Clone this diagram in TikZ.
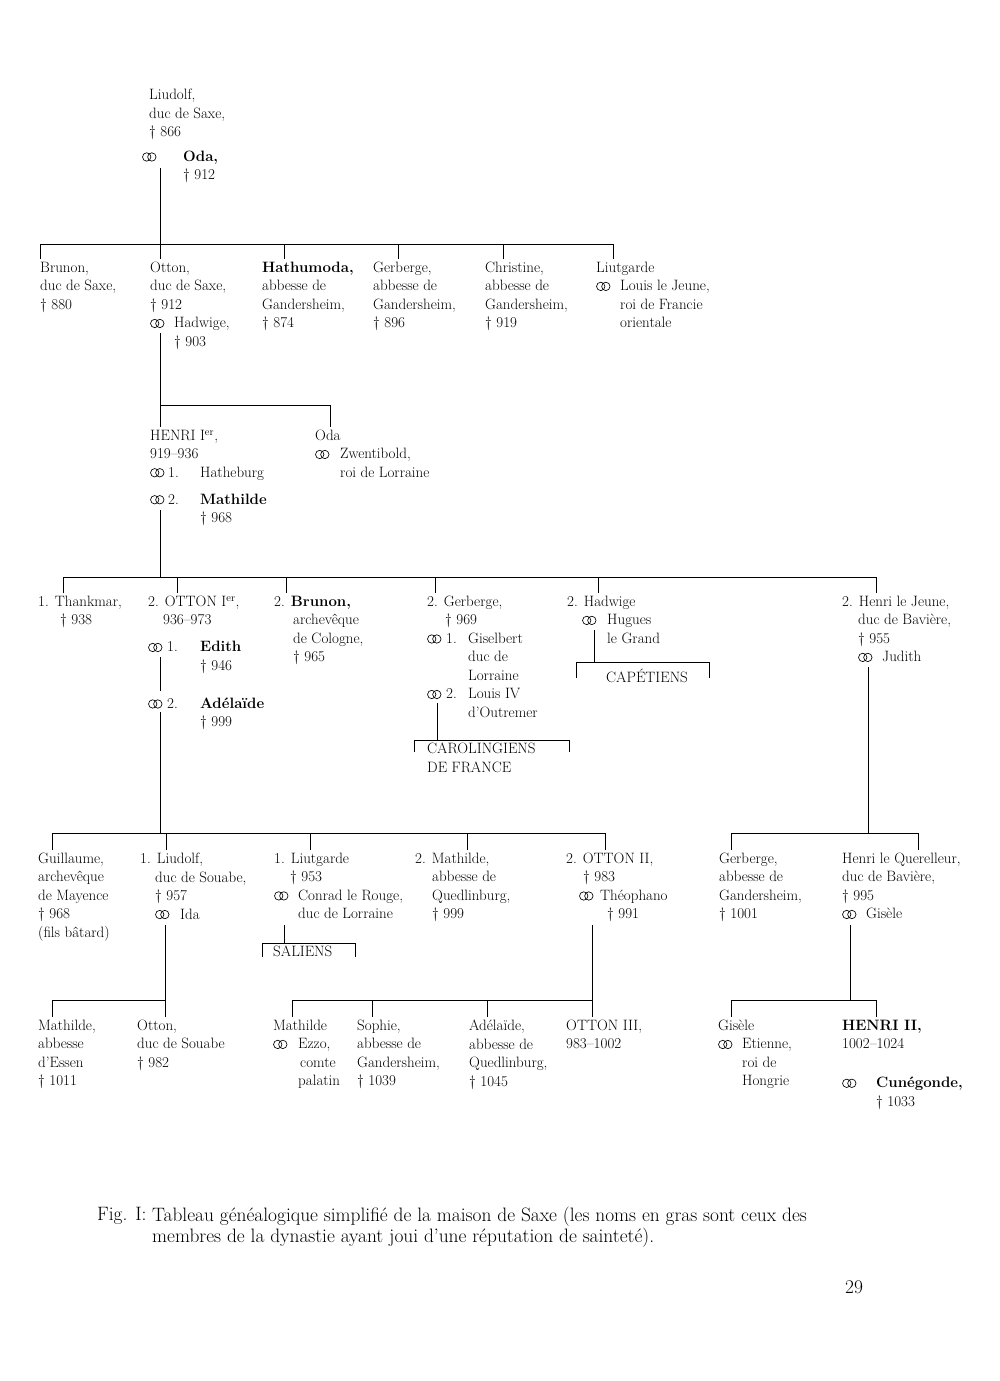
\documentclass[tikz,border=0pt]{standalone}
\usetikzlibrary{positioning}
% marriage sign, two rings
\newcommand\mar{\tikz[baseline=0pt,line width=0.65pt]{\draw (0.28em,0.3em) circle[radius=0.28em]; \draw (0.62em,0.3em) circle[radius=0.28em];}}
\newcommand\mb[1]{\makebox[#1][l]{\mar}}
\newcommand\ind[1]{\hspace*{#1}}
\tikzset{
	pers/.style={anchor=north west, align=left, inner sep=0pt, outer ysep=3pt, font=\fontsize{15}{18.5}\selectfont},
	capt/.style={anchor=north west, align=left, inner sep=0pt, font=\fontsize{19.4}{20.5}\selectfont},
	line/.style={line width=0.8pt}
}
\begin{document}
\begin{tikzpicture}[x=1pt,y=1pt]
	\useasboundingbox (0,0) rectangle (1000,-1381);
	% generation 0
	\node[pers] (liudolf) at (149,-86) {Liudolf,\\duc de Saxe,\\\textdagger\ 866};
	\node[pers] (oda) at (142,-148) {\mb{41pt}\textbf{Oda,}\\\ind{41pt}\textdagger\ 912};
	% generation 1
	\node[pers] (brunon) at (40,-259) {Brunon,\\duc de Saxe,\\\textdagger\ 880};
	\node[pers] (otton) at (150,-259) {Otton,\\duc de Saxe,\\\textdagger\ 912\\\mb{24pt}Hadwige,\\\ind{24pt}\textdagger\ 903};
	\node[pers] (hathumoda) at (262,-259) {\textbf{Hathumoda,}\\abbesse de\\Gandersheim,\\\textdagger\ 874};
	\node[pers] (gerberge) at (373,-259) {Gerberge,\\abbesse de\\Gandersheim,\\\textdagger\ 896};
	\node[pers] (christine) at (485,-259) {Christine,\\abbesse de\\Gandersheim,\\\textdagger\ 919};
	\node[pers] (liutgarde) at (596,-259) {Liutgarde\\\mb{24pt}Louis le Jeune,\\\ind{24pt}roi de Francie\\\ind{24pt}orientale};
	% generation 2
	\node[pers] (henri) at (150,-427) {HENRI I\textsuperscript{er},\\919--936\\\mb{18pt}\makebox[32pt][l]{1.}Hatheburg\\[8.5pt]\mb{18pt}\makebox[32pt][l]{2.}\textbf{Mathilde}\\\ind{50pt}\textdagger\ 968};
	\node[pers] (odab) at (315,-427) {Oda\\\mb{25pt}Zwentibold,\\\ind{25pt}roi de Lorraine};
	% generation 3
	\node[pers] (thankmar) at (38,-593) {1. Thankmar,\\\ind{22pt}\textdagger\ 938};
	\node[pers] (ottoni) at (148,-593) {2. OTTON I\textsuperscript{er},\\\ind{15pt}936--973\\[8.5pt]\mb{19pt}\makebox[33pt][l]{1.}\textbf{Edith}\\\ind{52pt}\textdagger\ 946\\[19.5pt]\mb{19pt}\makebox[33pt][l]{2.}\textbf{Adélaïde}\\\ind{52pt}\textdagger\ 999};
	\node[pers] (brunonb) at (274,-593) {2. \textbf{Brunon,}\\\ind{19pt}archevêque\\\ind{19pt}de Cologne,\\\ind{19pt}\textdagger\ 965};
	\node[pers] (gerbergeb) at (427,-593) {2. Gerberge,\\\ind{18pt}\textdagger\ 969\\\mb{19pt}\makebox[22pt][l]{1.}Giselbert\\\ind{41pt}duc de\\\ind{41pt}Lorraine\\\mb{19pt}\makebox[22pt][l]{2.}Louis IV\\\ind{41pt}d'Outremer};
	\node[pers] (carol) at (427,-740) {CAROLINGIENS\\DE FRANCE};
	\node[pers] (hadwige) at (567,-593) {2. Hadwige\\\ind{15pt}\mb{25pt}Hugues\\\ind{40pt}le Grand};
	\node[pers] (capet) at (606,-666) {CAPÉTIENS};
	\node[pers] (henrij) at (842,-593) {2. Henri le Jeune,\\\ind{16pt}duc de Bavière,\\\ind{16pt}\textdagger\ 955\\\ind{16pt}\mb{24pt}Judith};
	% generation 4
	\node[pers] (guillaume) at (38,-850) {Guillaume,\\archevêque\\de Mayence\\\textdagger\ 968\\(fils bâtard)};
	\node[pers] (liudolfb) at (140,-850) {1. Liudolf,\\\ind{15pt}duc de Souabe,\\\ind{15pt}\textdagger\ 957\\\ind{15pt}\mb{25pt}Ida};
	\node[pers] (liutgardeb) at (274,-850) {1. Liutgarde\\\ind{16pt}\textdagger\ 953\\\mb{24pt}Conrad le Rouge,\\\ind{24pt}duc de Lorraine};
	\node[pers] (saliens) at (273,-943) {SALIENS};
	\node[pers] (mathildeb) at (415,-850) {2. Mathilde,\\\ind{17pt}abbesse de\\\ind{17pt}Quedlinburg,\\\ind{17pt}\textdagger\ 999};
	\node[pers] (ottonii) at (566,-850) {2. OTTON II,\\\ind{17pt}\textdagger\ 983\\\ind{13pt}\mb{21pt}Théophano\\\ind{41pt}\textdagger\ 991};
	\node[pers] (gerbergec) at (719,-850) {Gerberge,\\abbesse de\\Gandersheim,\\\textdagger\ 1001};
	\node[pers] (henriq) at (842,-850) {Henri le Querelleur,\\duc de Bavière,\\\textdagger\ 995\\\mb{24pt}Gisèle};
	% generation 5
	\node[pers] (mathildec) at (38,-1017) {Mathilde,\\abbesse\\d'Essen\\\textdagger\ 1011};
	\node[pers] (ottonc) at (137,-1017) {Otton,\\duc de Souabe\\\textdagger\ 982};
	\node[pers] (mathilded) at (273,-1017) {Mathilde\\\mb{25pt}Ezzo,\\\ind{27pt}comte\\\ind{25pt}palatin};
	\node[pers] (sophie) at (357,-1017) {Sophie,\\abbesse de\\Gandersheim,\\\textdagger\ 1039};
	\node[pers] (adelaide) at (469,-1017) {Adélaïde,\\abbesse de\\Quedlinburg,\\\textdagger\ 1045};
	\node[pers] (ottoniii) at (566,-1017) {OTTON III,\\983--1002};
	\node[pers] (gisele) at (718,-1017) {Gisèle\\\mb{24pt}Etienne,\\\ind{24pt}roi de\\\ind{24pt}Hongrie};
	\node[pers] (henriii) at (842,-1017) {\textbf{HENRI II,}\\1002--1024\\[20.5pt]\mb{34pt}\textbf{Cunégonde,}\\\ind{34pt}\textdagger\ 1033};
	% caption
	\node[capt] (fig) at (97,-1207) {Fig. I:};
	\node[capt] (caption) at (152,-1207) {Tableau généalogique simplifié de la maison de Saxe (les noms en gras sont ceux des\\membres de la dynastie ayant joui d'une réputation de sainteté).};
	\node[capt] (page) at (845,-1280) {29};
	% descent points
	\coordinate (d0) at (160,-168);
	\coordinate (d1) at (160,-333);
	\coordinate (d2) at (160,-510);
	\coordinate (e1) at (160,-657);
	\coordinate (e2) at (160,-691);
	\coordinate (e3) at (160,-712);
	\coordinate (dgerb) at (437,-703);
	\coordinate (dhadw) at (594,-630);
	\coordinate (dhenrij) at (868,-667);
	\coordinate (dliud) at (165,-925);
	\coordinate (dliutg) at (284,-925);
	\coordinate (dottonii) at (592,-925);
	\coordinate (dhenriq) at (850,-925);
	% lines
	\begin{scope}[line]
		\draw (d0) -- (d0 |- otton.north);
		\draw (brunon.north west) -- ++(0,15) -| ([xshift=17pt]liutgarde.north west);
		\foreach \n/\o in {hathumoda/22,gerberge/25,christine/18}
			\draw (\n.north west) ++(\o,0) -- +(0,15);
		\draw (d1) -- (d1 |- henri.north);
		\draw (henri.north west) ++(10,0) -- ++(0,22) -| ([xshift=15pt]odab.north west);
		\draw (thankmar.north west) ++(25,0) -- ++(0,16) coordinate (bar3) -| ([xshift=34pt]henrij.north west);
		\foreach \n/\o in {ottoni/29,brunonb/12,gerbergeb/8,hadwige/31}
			\draw (\n.north west) ++(\o,0) -- +(0,16);
		\draw (d2) -- (d2 |- bar3);
		\draw (dgerb) -- (dgerb |- carol.north);
		\draw ([xshift=-13pt,yshift=-12pt]carol.north west) |- ([xshift=142pt]carol.north west) -- ++(0,-12);
		\draw (dhadw) -- ++(0,-32) coordinate (capbar);
		\draw ([xshift=-30pt,yshift=-12pt]capet.north west) |- ([xshift=103pt]capbar -| capet.north west) -- ++(0,-16);
		\draw (e1) -- (e2);
		\draw (guillaume.north west) ++(14,0) -- ++(0,17) coordinate (bar4) -| ([xshift=39pt]ottonii.north west);
		\foreach \n/\o in {liudolfb/26,liutgardeb/36,mathildeb/52}
			\draw (\n.north west) ++(\o,0) -- +(0,17);
		\draw (e3) -- (e3 |- bar4);
		\draw (gerbergec.north west) ++(12,0) -- ++(0,17) coordinate (bar4b) -| ([xshift=76pt]henriq.north west);
		\draw (dhenrij) -- (dhenrij |- bar4b);
		\draw (dliutg) -- (dliutg |- saliens.north);
		\draw ([xshift=-11pt,yshift=-14pt]saliens.north west) |- ([xshift=82pt]saliens.north west) -- ++(0,-14);
		\draw (mathildec.north west) ++(14,0) -- ++(0,17) -| ([xshift=28pt]ottonc.north west);
		\draw (dliud) -- (dliud |- ottonc.north);
		\draw (mathilded.north west) ++(19,0) -- ++(0,17) -| ([xshift=26pt]ottoniii.north west);
		\foreach \n/\o in {sophie/15,adelaide/18}
			\draw (\n.north west) ++(\o,0) -- +(0,17);
		\draw (dottonii) -- (dottonii |- ottoniii.north);
		\draw (gisele.north west) ++(13,0) -- ++(0,17) coordinate (bar5c) -| ([xshift=34pt]henriii.north west);
		\draw (dhenriq) -- (dhenriq |- bar5c);
	\end{scope}
\end{tikzpicture}
\end{document}
